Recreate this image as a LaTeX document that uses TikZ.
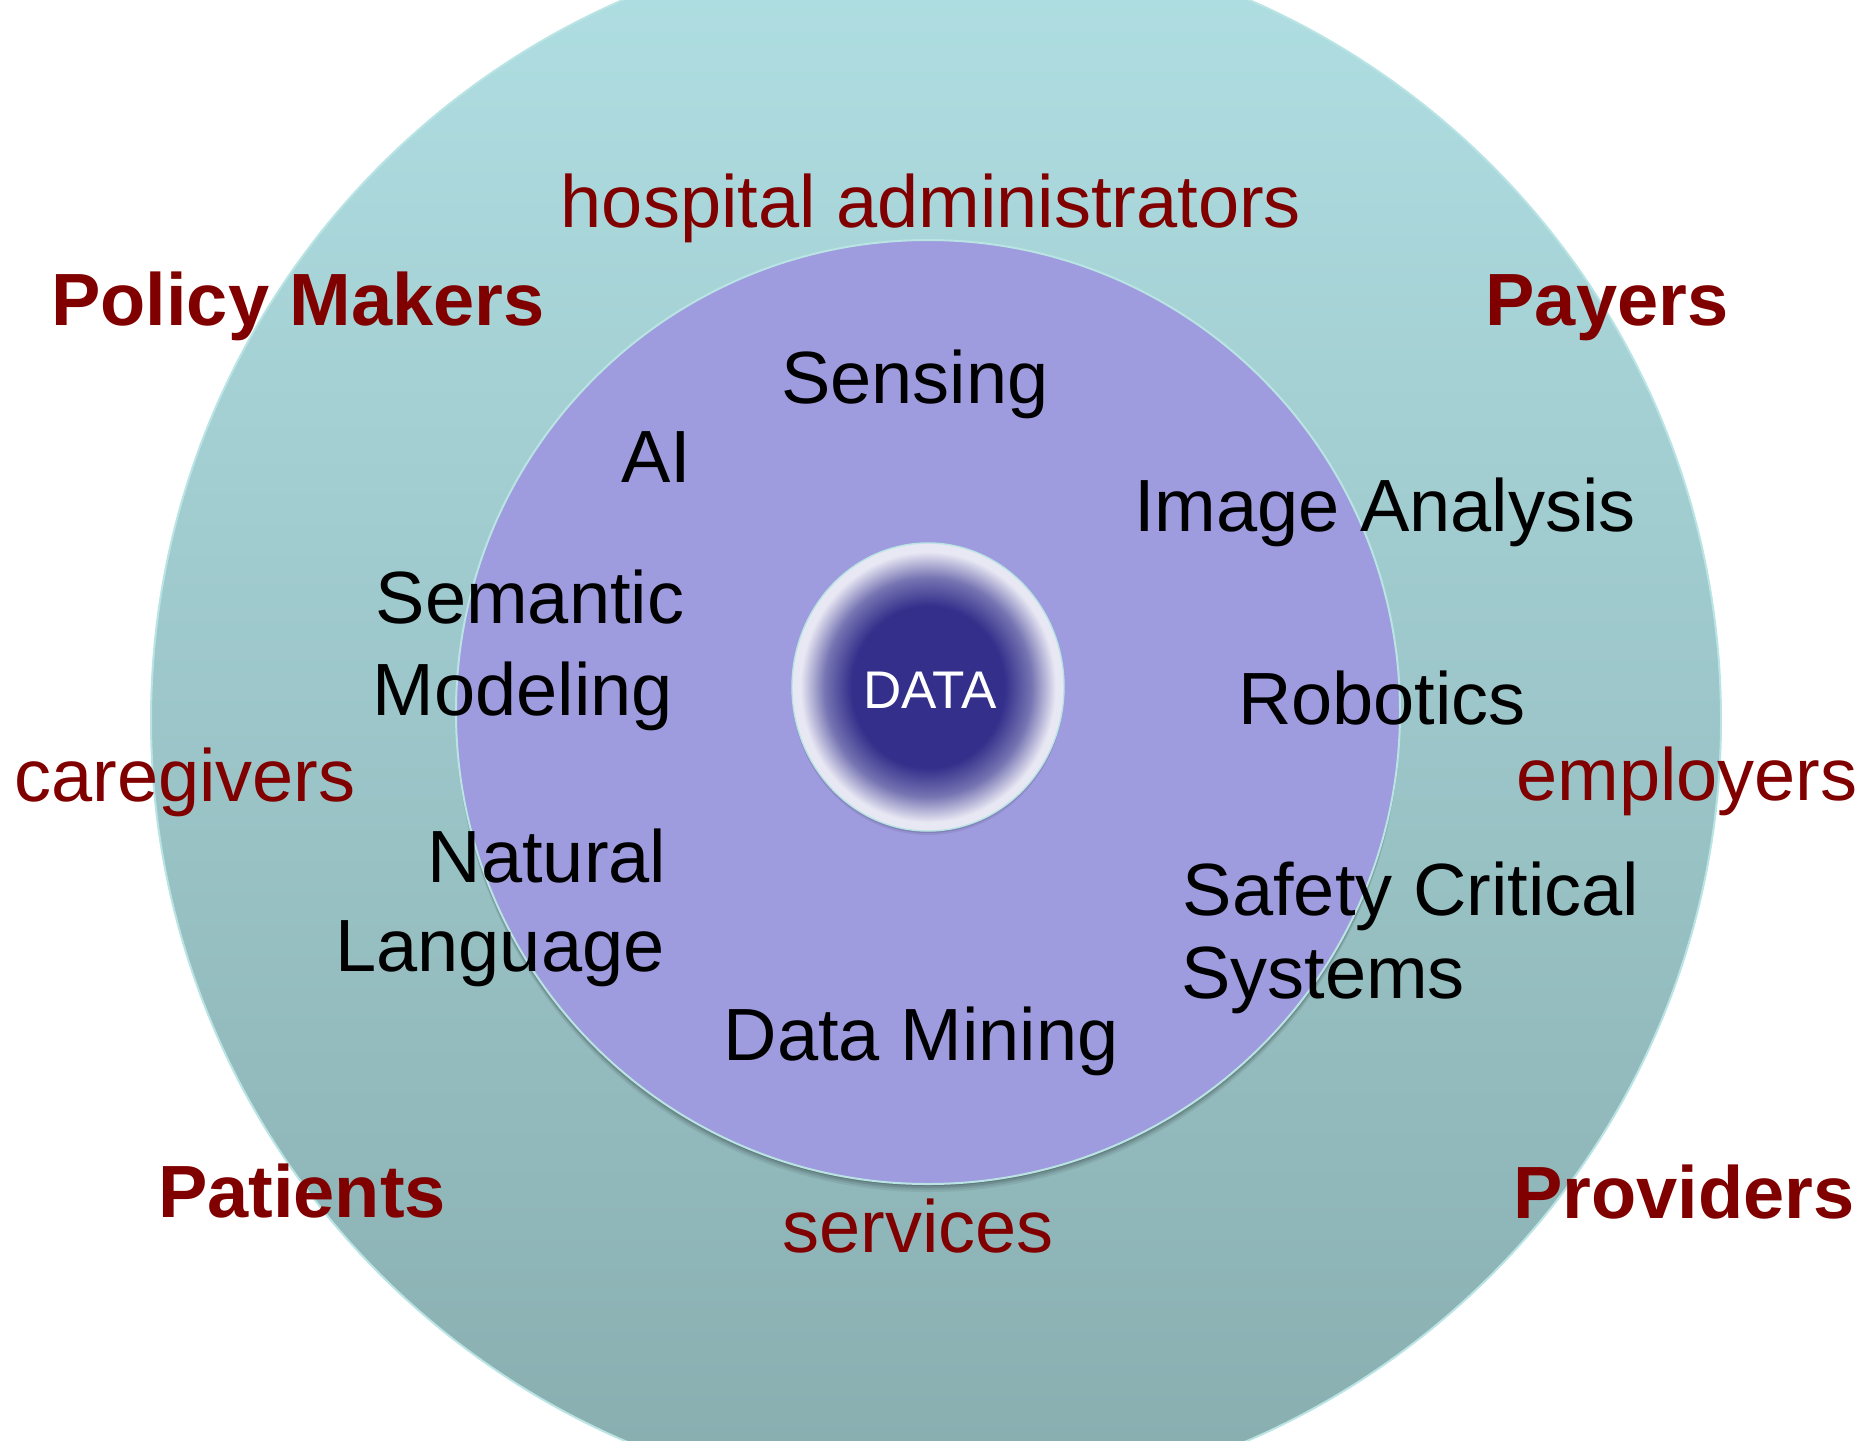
\documentclass[tikz,border=0pt]{standalone}
\usepackage{fontspec}
\setmainfont{Liberation Sans}
\usetikzlibrary{calc}

\definecolor{outertop}{RGB}{176,223,227}
\definecolor{outerbot}{RGB}{136,173,175}
\definecolor{innerfill}{RGB}{158,156,222}
\definecolor{rimline}{RGB}{186,228,228}
\definecolor{labelred}{RGB}{128,0,0}
\definecolor{datacore}{RGB}{51,47,139}
\definecolor{datamid}{RGB}{118,116,178}
\definecolor{dataedge}{RGB}{232,232,244}

% dark core fading to a pale rim
\pgfdeclareradialshading{datashade}{\pgfpoint{0bp}{0bp}}{%
  color(0bp)=(datacore); color(14bp)=(datacore); color(19bp)=(datamid);
  color(23.5bp)=(dataedge); color(50bp)=(dataedge)}

\begin{document}
\begin{tikzpicture}[x=0.5pt,y=-0.5pt,
  redlabel/.style={text=labelred, font=\fontsize{37}{44}\selectfont, inner sep=0pt, anchor=base},
  redbold/.style={text=labelred, font=\fontsize{37}{44}\selectfont\bfseries, inner sep=0pt, anchor=base},
  techlabel/.style={text=black, font=\fontsize{37}{44}\selectfont, inner sep=0pt, anchor=base},
  datalabel/.style={text=white, font=\fontsize{26.5}{32}\selectfont, inner sep=0pt, anchor=base},
]
\useasboundingbox (0,0) rectangle (1868,1440);

\coordinate (oc) at (936,720);
\coordinate (ic) at (928,712);
\coordinate (dc) at (928,687);

% outer ring of stakeholders
\begin{scope}
  \clip (0,0) rectangle (1868,1440);
  \shade[top color=outertop, bottom color=outerbot, draw=rimline, line width=1pt]
    (oc) circle[radius=785];
\end{scope}

% soft shadow under the technology disc
\foreach \d/\o in {8/0.06,6/0.08,4/0.11,2/0.14}
  \fill[black, opacity=\o] ($(ic)+(0,\d)$) circle[radius=472];
\fill[innerfill] (ic) circle[radius=472];
\draw[rimline, line width=1pt] (ic) circle[radius=472];

% data core
\foreach \d/\o in {4/0.07,2/0.11}
  \fill[black, opacity=\o] ($(dc)+(0,\d)$) ellipse[x radius=136, y radius=144];
\shade[shading=datashade] (dc) ellipse[x radius=136, y radius=144];
\draw[rimline, line width=0.7pt] (dc) ellipse[x radius=136, y radius=144];

% stakeholders
\node[redlabel] (hosp) at (931,227) {hospital administrators};
\node[redbold] (policy) at (298,325) {Policy Makers};
\node[redbold] (payers) at (1607,325) {Payers};
\node[redlabel] (care) at (185,801) {caregivers};
\node[redlabel] (employ) at (1687,800) {employers};
\node[redbold] (patients) at (302,1217) {Patients};
\node[redlabel] (services) at (918,1252) {services};
\node[redbold] (providers) at (1684,1218) {Providers};

% technologies
\node[techlabel] (sensing) at (915,403) {Sensing};
\node[techlabel] (ai) at (656,482) {AI};
\node[techlabel] (image) at (1385,531) {Image Analysis};
\node[techlabel] (sem1) at (530,623) {Semantic};
\node[techlabel] (sem2) at (523,715) {Modeling};
\node[techlabel] (robot) at (1382,724) {Robotics};
\node[techlabel] (nat1) at (547,882) {Natural};
\node[techlabel] (nat2) at (500,971) {Language};
\node[techlabel] (safe1) at (1411,915) {Safety Critical};
\node[techlabel] (safe2) at (1323,998) {Systems};
\node[techlabel] (mining) at (921,1060) {Data Mining};

\node[datalabel] (data) at (930,708) {DATA};
\end{tikzpicture}
\end{document}
